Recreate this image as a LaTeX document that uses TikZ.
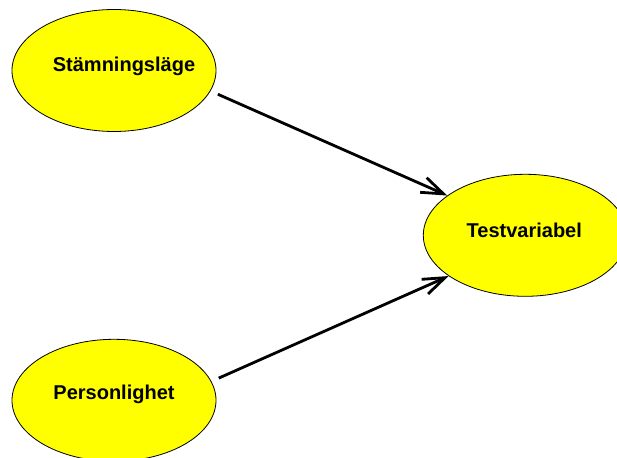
\documentclass[tikz,border=0pt]{standalone}
\usepackage{fontspec}
\setmainfont{Liberation Sans}
\usetikzlibrary{shapes,arrows.meta}
\definecolor{gul}{RGB}{255,255,0}

\begin{document}
\begin{tikzpicture}[
    x=1pt, y=1pt,
    var/.style={ellipse, draw, line width=0.8pt, fill=gul, minimum width=204pt, minimum height=122pt, inner sep=0pt},
    vartext/.style={font=\fontsize{20}{24}\selectfont\bfseries, inner sep=0pt},
    pil/.style={line width=2.8pt, -{Straight Barb[length=22pt, width=16pt]}}
]
\useasboundingbox (0,0) rectangle (617,-457);
\node[var, label={[vartext, xshift=10pt, yshift=4pt]center:Stämningsläge}] (stamning) at (114,-70.5) {};
\node[var, label={[vartext, yshift=6pt]center:Personlighet}] (person) at (114,-400.3) {};
\node[var, label={[vartext, xshift=-1pt, yshift=5pt]center:Testvariabel}] (testvar) at (525.3,-235.3) {};
\draw[pil, shorten <=8pt] (stamning.-12) -- (testvar.153);
\draw[pil, shorten <=8pt] (person.11) -- (testvar.-152);
\end{tikzpicture}
\end{document}
